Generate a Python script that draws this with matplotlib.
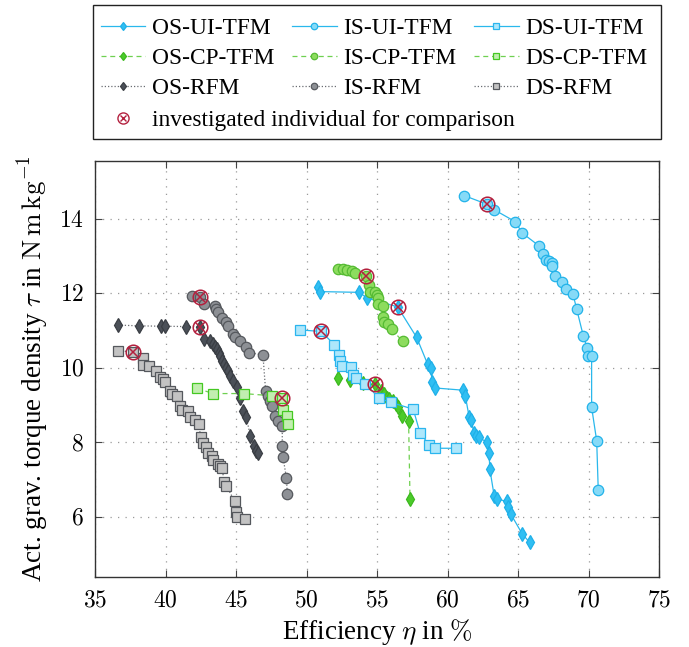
import matplotlib
matplotlib.use('Agg')
import matplotlib.pyplot as plt
from matplotlib.patches import Rectangle
from matplotlib.lines import Line2D
from matplotlib.legend_handler import HandlerTuple

plt.rcParams['font.family'] = ['Liberation Serif', 'DejaVu Serif']
plt.rcParams['mathtext.fontset'] = 'cm'

# ---- data: efficiency eta in %, torque density tau in N m/kg ----
os_ui_eta = [50.78, 50.95, 53.73, 54.25, 56.44, 57.79, 58.57, 58.81, 58.88, 59.11, 61.09, 61.24, 61.52, 61.64,
             61.87, 61.99, 62.18, 62.81, 62.93, 62.98, 63.29, 63.52, 64.23, 64.28, 64.47, 65.29, 65.81]
os_ui_tau = [12.18, 12.05, 12.03, 11.88, 11.64, 10.82, 10.10, 9.99, 9.61, 9.46, 9.40, 9.25, 8.67, 8.60,
             8.25, 8.17, 8.13, 8.00, 7.70, 7.28, 6.56, 6.47, 6.41, 6.25, 6.07, 5.53, 5.31]

is_ui_eta = [61.16, 62.77, 63.29, 64.78, 65.29, 66.47, 66.76, 66.95, 67.18, 67.37, 67.41, 67.58, 68.12, 68.36,
             68.88, 69.14, 69.61, 69.89, 69.94, 70.20, 70.20, 70.56, 70.67]
is_ui_tau = [14.63, 14.40, 14.25, 13.93, 13.62, 13.28, 13.06, 12.90, 12.86, 12.83, 12.74, 12.48, 12.31, 12.12,
             11.98, 11.58, 10.86, 10.53, 10.31, 10.31, 8.94, 8.04, 6.72]

ds_ui_eta = [49.49, 51.02, 51.96, 52.27, 52.37, 52.51, 53.17, 53.26, 53.50, 54.16, 55.10, 55.98, 57.55, 58.03,
             58.69, 59.09, 60.58]
ds_ui_tau = [11.02, 10.98, 10.62, 10.35, 10.19, 10.06, 10.03, 9.81, 9.73, 9.58, 9.19, 9.07, 8.89, 8.25,
             7.93, 7.84, 7.84]

os_cp_eta = [52.20, 53.03, 54.02, 54.87, 55.27, 55.50, 55.67, 55.86, 56.09, 56.33, 56.44, 56.75, 57.22, 57.32]
os_cp_tau = [9.74, 9.67, 9.60, 9.56, 9.38, 9.29, 9.20, 9.16, 9.12, 9.04, 8.94, 8.71, 8.56, 6.47]

is_cp_eta = [52.20, 52.55, 52.86, 53.19, 53.43, 54.20, 54.44, 54.51, 54.84, 54.99, 55.08, 55.03, 55.38, 55.38,
             55.50, 55.79, 56.02, 56.80]
is_cp_tau = [12.67, 12.66, 12.64, 12.61, 12.55, 12.46, 12.23, 12.05, 12.05, 11.96, 11.87, 11.71, 11.67, 11.38,
             11.22, 11.18, 11.04, 10.71]

ds_cp_eta = [42.22, 43.35, 45.52, 47.55, 48.26, 48.31, 48.59, 48.66]
ds_cp_tau = [9.45, 9.31, 9.31, 9.25, 9.19, 8.87, 8.71, 8.49]

os_rfm_eta = [36.63, 38.11, 39.65, 39.93, 41.42, 42.41, 42.69, 43.12, 43.35, 43.47, 43.64, 43.78, 43.87, 44.02,
              44.11, 44.25, 44.41, 44.58, 44.77, 45.05, 45.24, 45.48, 45.71, 46.00, 46.23, 46.42, 46.54]
os_rfm_tau = [11.15, 11.13, 11.12, 11.12, 11.11, 11.11, 10.77, 10.71, 10.64, 10.57, 10.50, 10.41, 10.33, 10.19,
              10.10, 10.01, 9.92, 9.79, 9.65, 9.49, 9.19, 8.85, 8.67, 8.17, 7.91, 7.77, 7.70]

is_rfm_eta = [41.89, 42.46, 42.69, 43.47, 43.59, 43.70, 44.02, 44.25, 44.41, 44.77, 44.89, 45.24, 45.67, 45.90,
              46.89, 47.08, 47.25, 47.36, 47.55, 47.72, 47.95, 48.26, 48.26, 48.31, 48.55, 48.62]
is_rfm_tau = [11.94, 11.91, 11.73, 11.67, 11.58, 11.49, 11.35, 11.22, 11.13, 10.92, 10.84, 10.71, 10.57, 10.41,
              10.35, 9.38, 9.25, 9.12, 8.98, 8.71, 8.56, 8.44, 7.91, 7.61, 7.05, 6.62]

ds_rfm_eta = [36.63, 37.69, 38.35, 38.40, 38.82, 39.34, 39.58, 39.81, 39.95, 40.29, 40.41, 40.80, 41.04, 41.18,
              41.58, 41.75, 42.06, 42.32, 42.48, 42.64, 42.88, 43.00, 43.31, 43.35, 43.70, 43.87, 44.02, 44.11,
              44.30, 44.89, 45.00, 45.05, 45.60]
ds_rfm_tau = [10.46, 10.43, 10.26, 10.08, 10.06, 9.92, 9.76, 9.70, 9.63, 9.38, 9.31, 9.25, 8.98, 8.87,
              8.83, 8.67, 8.60, 8.49, 8.15, 7.97, 7.88, 7.70, 7.64, 7.52, 7.43, 7.37, 7.30, 6.92,
              6.83, 6.41, 6.14, 5.98, 5.94]

# investigated individuals
inv_eta = [37.69, 42.41, 42.46, 48.26, 51.02, 54.87, 54.20, 56.44, 62.77]
inv_tau = [10.43, 11.11, 11.91, 9.19, 10.98, 9.56, 12.46, 11.64, 14.40]

x_ticks = [35, 40, 45, 50, 55, 60, 65, 70, 75]
y_ticks = [6, 8, 10, 12, 14]

TFS = 17
LFS = 16.8
AFS = 19.5
W, H = 689, 647

fig = plt.figure(figsize=(W / 100, H / 100), dpi=100)
ax = fig.add_axes([95.3 / W, 1 - 577 / H, 564 / W, 416 / H])

cyan = '#2ab8ec'
green = '#6fd050'
gray = '#6a6d72'
dash = (0, (4, 3))
dot = (0, (1, 1.6))

series = [
    # eta, tau, label, line colour, linestyle, marker, size, face, edge
    (os_ui_eta, os_ui_tau, 'OS-UI-TFM', cyan, '-', 'd', 7.0, '#30bff3', '#20b0e8'),
    (os_cp_eta, os_cp_tau, 'OS-CP-TFM', green, dash, 'd', 7.0, '#4ccb2a', '#3cb81e'),
    (os_rfm_eta, os_rfm_tau, 'OS-RFM', gray, dot, 'd', 7.0, '#4b5058', '#3a3e44'),
    (is_ui_eta, is_ui_tau, 'IS-UI-TFM', cyan, '-', 'o', 7.5, '#86daf7', '#22b3ea'),
    (is_cp_eta, is_cp_tau, 'IS-CP-TFM', green, dash, 'o', 7.5, '#8ddc5e', '#55bb33'),
    (is_rfm_eta, is_rfm_tau, 'IS-RFM', gray, dot, 'o', 7.5, '#8d9095', '#55585d'),
    (ds_ui_eta, ds_ui_tau, 'DS-UI-TFM', cyan, '-', 's', 6.5, '#aee7fb', '#2ab5ee'),
    (ds_cp_eta, ds_cp_tau, 'DS-CP-TFM', green, dash, 's', 6.5, '#c2eeb0', '#45c822'),
    (ds_rfm_eta, ds_rfm_tau, 'DS-RFM', gray, dot, 's', 6.5, '#c3c3c3', '#55585d'),
]

handles = []
for eta, tau, lab, lc, ls, mk, ms, fc, ec in series:
    h, = ax.plot(eta, tau, color=lc, ls=ls, lw=0.9, marker=mk, ms=ms, mfc=fc, mec=ec, mew=0.9,
                 label=lab, zorder=3)
    handles.append(h)

red = '#b3203e'
ax.plot(inv_eta, inv_tau, ls='none', marker='o', ms=10.5, mfc='none', mec=red, mew=1.1, zorder=5)
ax.plot(inv_eta, inv_tau, ls='none', marker='x', ms=6.5, mec=red, mew=1.1, zorder=5)

ax.set_xlim(35, 75)
ax.set_ylim(4.38, 15.56)
ax.set_xticks(x_ticks)
ax.set_xticklabels(['$%d$' % v for v in x_ticks])
ax.set_yticks(y_ticks)
ax.set_yticklabels(['$%d$' % v for v in y_ticks])
ax.tick_params(direction='in', top=True, right=True, length=5, width=0.8, color='#444444',
               labelsize=TFS)
ax.tick_params(axis='x', pad=10)
ax.tick_params(axis='y', pad=8)
ax.grid(True, ls=(0, (1, 5)), color='#9a9a9a', lw=0.9)
for sp in ax.spines.values():
    sp.set_linewidth(1.0)
    sp.set_color('#333333')

ax.set_xlabel(r'Efficiency $\eta$ in $\%$', fontsize=AFS, labelpad=4)
ax.set_ylabel(r'Act. grav. torque density $\tau$ in $\mathrm{N\,m\,kg^{-1}}$', fontsize=AFS, labelpad=5)

# legend: 3x3 block plus a single row underneath, framed together
leg_kw = dict(frameon=False, fontsize=LFS, handlelength=1.9, handletextpad=0.3, borderpad=0,
              borderaxespad=0, markerscale=0.62, loc='upper left')
fig.legend(handles=handles, ncol=3, columnspacing=0.75, labelspacing=0.36,
           bbox_to_anchor=(101 / W, 1 - 18 / H), **leg_kw)

inv_c = Line2D([], [], ls='none', marker='o', ms=10, mfc='none', mec=red, mew=1.0)
inv_x = Line2D([], [], ls='none', marker='x', ms=6, mec=red, mew=1.0)
fig.legend(handles=[(inv_c, inv_x)], labels=['investigated individual for comparison'],
           handler_map={tuple: HandlerTuple(ndivide=1)}, bbox_to_anchor=(101 / W, 1 - 110 / H),
           **dict(leg_kw, markerscale=0.8))

fig.add_artist(Rectangle((93.3 / W, 1 - 139.3 / H), 567.7 / W, 134.3 / H, transform=fig.transFigure,
                         fill=False, ec='#222222', lw=1.0))

fig.savefig('out.png', dpi=100)
